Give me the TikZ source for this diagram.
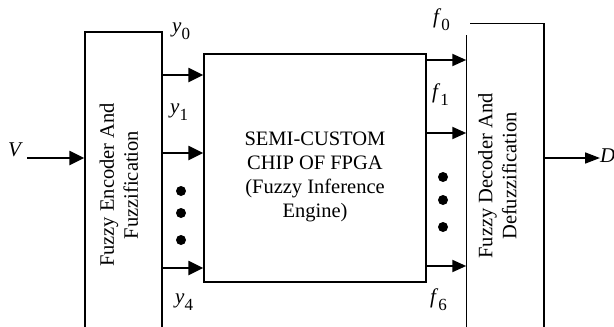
\documentclass[tikz,border=0pt]{standalone}
\usepackage{fontspec}
\setmainfont{Liberation Serif}
\usepackage{tikz}
\usetikzlibrary{arrows.meta,positioning}

\newcommand{\sigl}[2]{\textit{#1}\raisebox{-7pt}{\fontsize{17}{17}\selectfont #2}}

\begin{document}
\begin{tikzpicture}[
    x=1pt,y=-1pt,
    box/.style={draw,line width=1.5pt,rectangle,align=center,inner sep=0pt,font=\fontsize{20.5}{24}\selectfont},
    lab/.style={anchor=base west,inner sep=0pt,font=\fontsize{21}{21}\selectfont},
    thick arr/.style={line width=2.6pt,-{Triangle[length=15pt,width=14pt]}},
    mid arr/.style={line width=2.1pt,-{Triangle[length=14pt,width=12pt]}},
    thin arr/.style={line width=1.7pt,-{Triangle[length=15pt,width=11pt]}}
]
\useasboundingbox (0,0) rectangle (614,327);
\clip (0,0) rectangle (614,327);
\node[box,minimum width=77pt,minimum height=306pt] (enc) at (123.5,185)
  {\hspace*{-5pt}\rotatebox{90}{\begin{tabular}{@{}c@{}}Fuzzy Encoder And\\Fuzzification\end{tabular}}};
\node[box,minimum width=222pt,minimum height=228pt] (fie) at (315,168)
  {\rule{0pt}{32pt}SEMI-CUSTOM\\CHIP OF FPGA\\(Fuzzy Inference\\Engine)};
\node[box,draw=none,minimum width=76pt,minimum height=304pt] (dec) at (505,176)
  {\hspace*{-11pt}\rotatebox{90}{\begin{tabular}{@{}c@{}}Fuzzy Decoder And\\Defuzzification\end{tabular}}};
% decoder outline, corner left open under f0
\draw[line width=1.5pt] (dec.south west) -- ([yshift=-12pt]dec.north west)
  ([xshift=4pt]dec.north west) -- (dec.north east) -- (dec.south east);

\node[lab] (vlab) at (8,156) {\textit{V}};
\node[lab] (dlab) at (600,162) {\textit{D}};
\coordinate (vin) at (27,158);
\coordinate (dout) at (600,158);
\draw[thick arr] (vin) -- (enc.west |- vin);
\draw[thin arr] (dec.east |- dout) -- (dout);

\foreach \yy in {75,153,268}
  \draw[thick arr] (enc.east |- 0,\yy) -- (fie.west |- 0,\yy);
\foreach \yy in {60,133,266}
  \draw[mid arr] (fie.east |- 0,\yy) -- (dec.west |- 0,\yy);
\foreach \yy in {191,213,240}
  \fill (181,\yy) circle (5pt);
\foreach \yy in {177,200,227}
  \fill (443,\yy) circle (5pt);

\node[lab] (y0) at (172,32) {\sigl{y}{0}};
\node[lab] (y1) at (170,113) {\sigl{y}{1}};
\node[lab] (y4) at (175,303) {\sigl{y}{4}};
\node[lab] (f0) at (433,23) {\sigl{f}{0}};
\node[lab] (f1) at (432,98) {\sigl{f}{1}};
\node[lab] (f6) at (430,303) {\sigl{f}{6}};
\end{tikzpicture}
\end{document}
